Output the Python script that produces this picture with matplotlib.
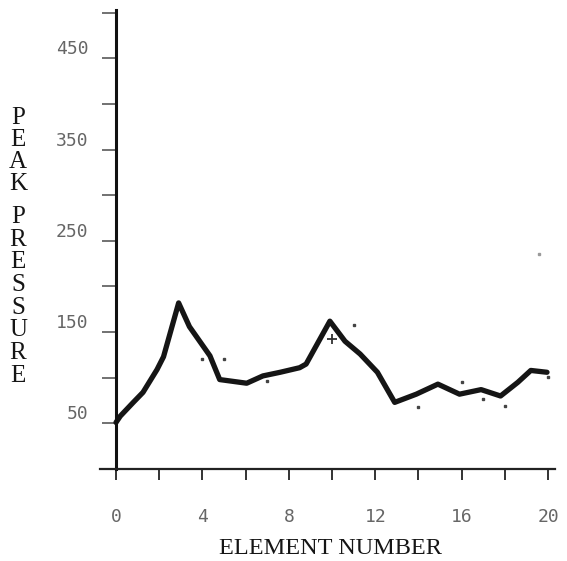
"""Peak pressure along the element row, plotted in an old plotter style."""

import matplotlib.pyplot as plt

# Smoothed peak-pressure trace
curve_x = [0, 0.2, 0.8, 1.25, 1.9, 2.2, 2.9, 3.4, 4.35, 4.8, 6.05, 6.8,
           7.6, 8.5, 8.8, 9.9, 10.6, 11.3, 12.1, 12.9, 13.9, 14.9, 15.9,
           16.9, 17.8, 18.6, 19.2, 19.95]
curve_y = [51, 58, 73, 84, 109, 123, 182, 156, 124, 98, 94, 102,
           106, 111, 115, 162, 140, 126, 106, 73, 82, 93, 82,
           87, 80, 95, 108, 106]

# Individual measured points
point_x = [4, 5, 7, 11, 14, 16, 17, 18, 20]
point_y = [120, 120, 96, 158, 68, 95, 77, 69, 101]
cross_x = [10]
cross_y = [142]
stray_x = [19.6]
stray_y = [236]

y_ticks = list(range(50, 501, 50))
y_labels = ["50", "150", "250", "350", "450"]
x_ticks = list(range(0, 21, 2))
x_labels = ["0", "4", "8", "12", "16", "20"]


def main():
    fig = plt.figure(figsize=(5.67, 5.61), dpi=100)
    ax = fig.add_axes([100 / 567, 1 - 469 / 561, 455 / 567, 459 / 561])

    ax.plot(curve_x, curve_y, color="#151515", linewidth=3.8,
            solid_joinstyle="round", solid_capstyle="round")
    ax.plot(point_x, point_y, linestyle="none", marker="s", markersize=2,
            color="#444444")
    ax.plot(cross_x, cross_y, linestyle="none", marker="+", markersize=7,
            markeredgewidth=1.3, color="#333333")
    ax.plot(stray_x, stray_y, linestyle="none", marker="s", markersize=2,
            color="#9a9a9a")

    ax.set_xlim(-0.74, 20.32)
    ax.set_ylim(0, 503)

    ax.spines["top"].set_visible(False)
    ax.spines["right"].set_visible(False)
    ax.spines["left"].set_position(("data", 0))
    ax.spines["left"].set_linewidth(2.2)
    ax.spines["bottom"].set_linewidth(1.6)
    ax.spines["left"].set_color("#111111")
    ax.spines["bottom"].set_color("#222222")

    mono = "DejaVu Sans Mono"
    ax.set_yticks(y_ticks)
    ax.set_yticklabels([str(v) if str(v) in y_labels else "" for v in y_ticks],
                       family=mono, fontsize=13, color="#666666")
    for lab in ax.get_yticklabels():
        lab.set_verticalalignment("bottom")
    ax.tick_params(axis="y", direction="out", length=10, width=1.3,
                   color="#666666", pad=10)

    ax.set_xticks(x_ticks)
    ax.set_xticklabels([str(v) if str(v) in x_labels else "" for v in x_ticks],
                       family=mono, fontsize=13, color="#666666")
    ax.tick_params(axis="x", direction="out", length=8, width=1.4,
                   color="#333333", pad=20)

    serif = "Liberation Serif"
    # Stacked vertical axis title
    for i, ch in enumerate("PEAK"):
        fig.text(18 / 567, 1 - (118 + 22 * i) / 561, ch, family=serif,
                 fontsize=18, ha="center", va="center", color="#151515")
    for i, ch in enumerate("PRESSURE"):
        fig.text(18 / 567, 1 - (217 + 22.7 * i) / 561, ch, family=serif,
                 fontsize=18, ha="center", va="center", color="#151515")

    fig.text(330 / 567, 1 - 548 / 561, "ELEMENT NUMBER", family=serif,
             fontsize=17.5, ha="center", va="center", color="#151515")

    fig.savefig("out.png", dpi=100)


if __name__ == "__main__":
    main()
